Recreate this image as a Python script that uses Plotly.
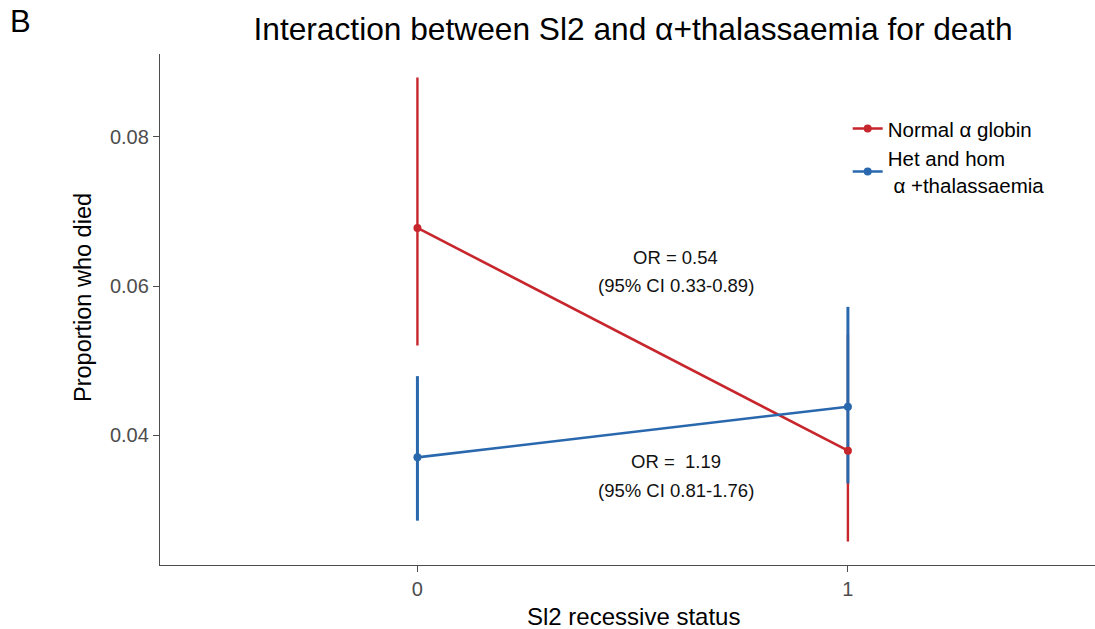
import plotly.graph_objects as go

# Data
x_status = [0, 1]
normal_prop = [0.0678, 0.0379]
normal_lo = [0.0520, 0.0257]
normal_hi = [0.0880, 0.0535]
thal_prop = [0.0370, 0.0438]
thal_lo = [0.0285, 0.0335]
thal_hi = [0.0479, 0.0572]
series_names = ["Normal \u03b1 globin", "Het and hom<br> \u03b1 +thalassaemia"]
y_ticks = [0.04, 0.06, 0.08]
y_ticklabels = ["0.04", "0.06", "0.08"]

RED = "#C6262C"
BLUE = "#2A68AE"
FONT = "Liberation Sans"

W, H = 1095, 629
L, R, T, B = 160, 0, 54, 64
PW, PH = W - L - R, H - T - B


def px_to_paper_x(px):
    return (px - L) / PW


def px_to_paper_y(py):
    return (H - B - py) / PH


fig = go.Figure()

# error bars first (drawn beneath lines and points); blue drawn above red
for lo, hi, col, lw in [(normal_lo, normal_hi, RED, 2.4), (thal_lo, thal_hi, BLUE, 3.0)]:
    xs, ys = [], []
    for xv, l, h in zip(x_status, lo, hi):
        xs += [xv, xv, None]
        ys += [l, h, None]
    fig.add_trace(go.Scatter(x=xs, y=ys, mode="lines",
                             line=dict(color=col, width=lw),
                             showlegend=False, hoverinfo="skip"))

for prop, col, name in [(normal_prop, RED, series_names[0]),
                        (thal_prop, BLUE, series_names[1])]:
    fig.add_trace(go.Scatter(
        x=x_status, y=prop, mode="lines+markers", name=name,
        line=dict(color=col, width=2.6),
        marker=dict(color=col, size=8)))

ann_font = dict(family=FONT, size=18.5, color="#111")
fig.add_annotation(x=0.6, y=0.0638, text="OR = 0.54", showarrow=False, font=ann_font)
fig.add_annotation(x=0.6, y=0.0601, text="(95% CI 0.33-0.89)", showarrow=False, font=ann_font)
fig.add_annotation(x=0.6, y=0.0364, text="OR =  1.19", showarrow=False, font=ann_font)
fig.add_annotation(x=0.6, y=0.0326, text="(95% CI 0.81-1.76)", showarrow=False, font=ann_font)

# panel letter
fig.add_annotation(xref="paper", yref="paper", x=px_to_paper_x(8), y=px_to_paper_y(21),
                   xanchor="left", yanchor="middle", text="B", showarrow=False,
                   font=dict(family=FONT, size=31, color="#000"))
# axis titles
fig.add_annotation(xref="paper", yref="paper", x=px_to_paper_x(633), y=px_to_paper_y(616),
                   xanchor="center", yanchor="middle", text="Sl2 recessive status",
                   showarrow=False, font=dict(family=FONT, size=24, color="#000"))
fig.add_annotation(xref="paper", yref="paper", x=px_to_paper_x(83), y=px_to_paper_y(298),
                   xanchor="center", yanchor="middle", text="Proportion who died",
                   textangle=-90, showarrow=False,
                   font=dict(family=FONT, size=23.5, color="#000"))

fig.update_layout(
    width=W, height=H,
    margin=dict(l=L, r=R, t=T, b=B, autoexpand=False),
    paper_bgcolor="white", plot_bgcolor="white",
    font=dict(family=FONT, color="#000"),
    title=dict(text="Interaction between Sl2 and \u03b1+thalassaemia for death",
               x=633 / W, xanchor="center", y=1 - 29 / H, yanchor="middle",
               font=dict(family=FONT, size=31.7, color="#000")),
    legend=dict(x=0.7355, y=0.893, xanchor="left", yanchor="top",
                font=dict(family=FONT, size=20.5, color="#000"),
                bgcolor="rgba(0,0,0,0)", tracegroupgap=0),
    showlegend=True,
)

fig.update_xaxes(range=[-0.598, 1.574], tickvals=x_status,
                 ticktext=[str(v) for v in x_status], automargin=False,
                 showline=True, linecolor="#4d4d4d", linewidth=1.3,
                 ticks="outside", ticklen=6, tickcolor="#4d4d4d",
                 showgrid=False, zeroline=False,
                 tickfont=dict(family=FONT, size=20, color="#4d4d4d"))
fig.update_yaxes(range=[0.02255, 0.09114], tickvals=y_ticks, ticktext=y_ticklabels,
                 automargin=False,
                 showline=True, linecolor="#4d4d4d", linewidth=1.3,
                 ticks="outside", ticklen=6, tickcolor="#4d4d4d",
                 showgrid=False, zeroline=False,
                 tickfont=dict(family=FONT, size=20, color="#4d4d4d"))

fig.write_html("out.html",
               config={"displayModeBar": False},
               post_script="document.body.style.margin='0';"
                           "document.body.style.overflow='hidden';")
